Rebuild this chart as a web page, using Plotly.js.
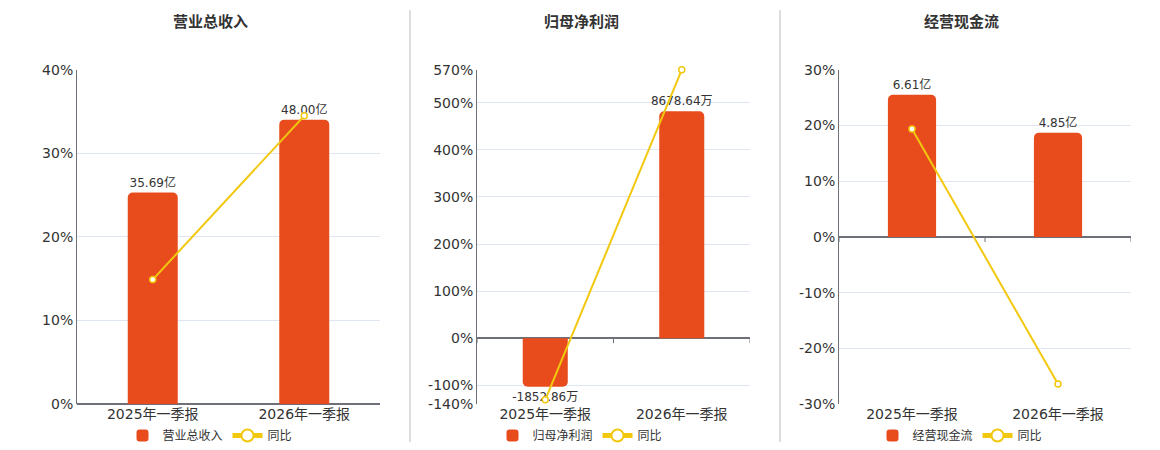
<!DOCTYPE html>
<html>
<head>
<meta charset="utf-8">
<script src="https://cdn.plot.ly/plotly-3.0.1.min.js"></script>
<style>
  html, body { margin: 0; padding: 0; background: #fff; }
  #chart { width: 1160px; height: 450px; }
</style>
</head>
<body>
<div id="chart"></div>
<script>
// periods on the category axis
const periods = ['2025年一季报', '2026年一季报'];

// 营业总收入 (亿) and YoY (%)
const revenue = [35.69, 48.00];
const revenueYoY = [14.9, 34.5];

// 归母净利润 (万) and YoY (%)
const netProfit = [-1852.86, 8678.64];
const netProfitYoY = [-131, 570];

// 经营现金流 (亿) and YoY (%)
const cashFlow = [6.61, 4.85];
const cashFlowYoY = [19.4, -26.4];

// y tick values for the percentage axes
const ticks1 = [0, 10, 20, 30, 40];
const ticks2 = [-140, -100, 0, 100, 200, 300, 400, 500, 570];
const ticks3 = [-30, -20, -10, 0, 10, 20, 30];

const BAR = '#E84C1D';
const LINE = '#F2C80F';
const FONT = 'DejaVu Sans, "Noto Sans CJK SC", sans-serif';

function barTrace(name, values, unit, xa, ya, legend) {
  return {
    type: 'bar', name: name, x: periods, y: values,
    xaxis: xa, yaxis: ya, legend: legend,
    width: 0.33,
    marker: { color: BAR, cornerradius: 5 },
    text: values.map(v => v.toFixed(2) + unit),
    textposition: 'outside',
    constraintext: 'none',
    textfont: { size: 12, color: '#333' },
    cliponaxis: false,
    hoverinfo: 'skip'
  };
}

function yoyTrace(values, xa, ya, legend) {
  return {
    type: 'scatter', mode: 'lines+markers', name: '同比',
    x: periods, y: values, xaxis: xa, yaxis: ya, legend: legend,
    line: { color: LINE, width: 2 },
    marker: { symbol: 'circle', size: 6, color: '#fff', line: { color: LINE, width: 1.5 } },
    cliponaxis: false,
    hoverinfo: 'skip'
  };
}

const data = [
  barTrace('营业总收入', revenue, '亿', 'x', 'y', 'legend'),
  yoyTrace(revenueYoY, 'x', 'y4', 'legend'),
  barTrace('归母净利润', netProfit, '万', 'x2', 'y2', 'legend2'),
  yoyTrace(netProfitYoY, 'x2', 'y5', 'legend2'),
  barTrace('经营现金流', cashFlow, '亿', 'x3', 'y3', 'legend3'),
  yoyTrace(cashFlowYoY, 'x3', 'y6', 'legend3')
];

const yDom = [0.1, 0.8444];

function xAxis(dom, anchor) {
  return {
    domain: dom, anchor: anchor, type: 'category',
    range: [-0.5, 1.5], showgrid: false, zeroline: false, showline: false,
    ticks: '', tickfont: { size: 14, color: '#333' }, fixedrange: true
  };
}

function barAxis(anchor, range) {
  return { domain: yDom, anchor: anchor, range: range, visible: false, fixedrange: true };
}

function pctAxis(anchor, over, range, vals) {
  return {
    domain: yDom, anchor: anchor, overlaying: over, side: 'left',
    range: range, tickmode: 'array', tickvals: vals,
    ticktext: vals.map(v => v + '%'),
    showgrid: true, gridcolor: '#E0E6F1', gridwidth: 1,
    zeroline: true, zerolinecolor: '#6E7079', zerolinewidth: 2,
    showline: true, linecolor: '#6E7079', linewidth: 1,
    ticks: '', tickfont: { size: 14, color: '#333' }, fixedrange: true
  };
}

function legendAt(x) {
  return {
    orientation: 'h', x: x, xanchor: 'center', y: 0.031, yanchor: 'middle',
    font: { size: 12, color: '#333', family: FONT }, itemsizing: 'constant',
    bgcolor: 'rgba(0,0,0,0)'
  };
}

function title(text, x) {
  return {
    text: '<b>' + text + '</b>', xref: 'paper', yref: 'paper', x: x, y: 0.951,
    xanchor: 'center', yanchor: 'middle', showarrow: false,
    font: { size: 15, color: '#333', family: FONT }
  };
}

// little tick marks at category boundaries on the zero line
const shapes = [];
[['x', 'y4'], ['x2', 'y5'], ['x3', 'y6']].forEach(function (p) {
  [-0.5, 0.5, 1.5].forEach(function (b) {
    shapes.push({
      type: 'line', xref: p[0], yref: p[1], ysizemode: 'pixel', yanchor: 0,
      x0: b, x1: b, y0: 0, y1: -5, line: { color: '#6E7079', width: 1 }
    });
  });
});
// panel dividers
[410, 780].forEach(function (px) {
  shapes.push({
    type: 'line', xref: 'paper', yref: 'paper',
    x0: px / 1160, x1: px / 1160, y0: 1 - 443 / 450, y1: 1 - 10 / 450,
    line: { color: '#BBBBBB', width: 1 }
  });
});

const layout = {
  width: 1160, height: 450,
  margin: { l: 0, r: 0, t: 0, b: 0 },
  paper_bgcolor: '#fff', plot_bgcolor: 'rgba(0,0,0,0)',
  font: { family: FONT, color: '#333' },
  showlegend: true,
  xaxis: xAxis([77 / 1160, 380 / 1160], 'y'),
  xaxis2: xAxis([477 / 1160, 750 / 1160], 'y2'),
  xaxis3: xAxis([839 / 1160, 1131 / 1160], 'y3'),
  yaxis: barAxis('x', [0, 56.4]),
  yaxis2: barAxis('x2', [-140 * 18, 570 * 18]),
  yaxis3: barAxis('x3', [-7.77, 7.77]),
  yaxis4: pctAxis('x', 'y', [0, 40], ticks1),
  yaxis5: pctAxis('x2', 'y2', [-140, 570], ticks2),
  yaxis6: pctAxis('x3', 'y3', [-30, 30], ticks3),
  legend: legendAt(210 / 1160),
  legend2: legendAt(580 / 1160),
  legend3: legendAt(960 / 1160),
  annotations: [
    title('营业总收入', 210 / 1160),
    title('归母净利润', 581 / 1160),
    title('经营现金流', 961 / 1160)
  ],
  shapes: shapes
};

Plotly.newPlot('chart', data, layout, { displayModeBar: false, staticPlot: true });
</script>
</body>
</html>
